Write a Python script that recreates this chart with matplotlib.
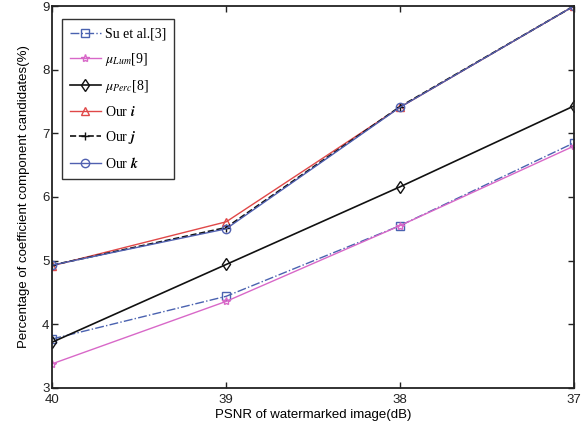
import matplotlib
matplotlib.use("Agg")
import matplotlib.pyplot as plt

psnr = [40, 39, 38, 37]
su = [3.77, 4.44, 5.55, 6.85]
mu_lum = [3.38, 4.36, 5.55, 6.80]
mu_perc = [3.72, 4.94, 6.16, 7.43]
our_i = [4.92, 5.61, 7.41, 9.0]
our_j = [4.93, 5.52, 7.42, 9.0]
our_k = [4.93, 5.50, 7.41, 9.0]
yticks = [3, 4, 5, 6, 7, 8, 9]

plt.rcParams['font.family'] = ['Liberation Sans', 'DejaVu Sans']
plt.rcParams['mathtext.fontset'] = 'stix'

fig = plt.figure(figsize=(5.88, 4.32), dpi=100)
ax = fig.add_axes([0.089, 0.102, 0.887, 0.884])

ax.plot(psnr, su, color='#4a62b0', linestyle='-.', linewidth=1.0, marker='s',
        markersize=6, markerfacecolor='none', markeredgecolor='#4a62b0', label='Su et al.[3]')
ax.plot(psnr, mu_lum, color='#d868c8', linestyle='-', linewidth=1.0, marker='*',
        markersize=6, markerfacecolor='none', markeredgecolor='#d868c8', label=r'$\mu_{Lum}$[9]')
ax.plot(psnr, mu_perc, color='#111111', linestyle='-', linewidth=1.2, marker='d',
        markersize=6, markerfacecolor='none', markeredgecolor='#111111', label=r'$\mu_{Perc}$[8]')
ax.plot(psnr, our_i, color='#e04848', linestyle='-', linewidth=1.0, marker='^',
        markersize=6, markerfacecolor='none', markeredgecolor='#e04848', label=r'Our $\boldsymbol{i}$')
ax.plot(psnr, our_j, color='#111111', linestyle='--', linewidth=1.2, marker='+',
        markersize=6, markeredgecolor='#111111', label=r'Our $\boldsymbol{j}$')
ax.plot(psnr, our_k, color='#5060b0', linestyle='-', linewidth=1.0, marker='o',
        markersize=6, markerfacecolor='none', markeredgecolor='#5060b0', label=r'Our $\boldsymbol{k}$')

ax.set_xlim(40, 37)
ax.set_ylim(3, 9)
ax.set_xticks(psnr)
ax.set_yticks(yticks)
ax.tick_params(direction='in', length=4, width=1, labelsize=9.5,
               top=True, right=True, colors='#222222')
ax.tick_params(axis='x', pad=4.5)
ax.tick_params(axis='y', pad=2)
for s in ax.spines.values():
    s.set_linewidth(1.3)
    s.set_color('#222222')

ax.set_xlabel('PSNR of watermarked image(dB)', fontsize=9.5, labelpad=2)
ax.set_ylabel('Percentage of coefficient component candidates(%)', fontsize=9.5, labelpad=9)

leg = ax.legend(loc='upper left', bbox_to_anchor=(0.018, 0.965), fancybox=False,
                edgecolor='#333333', framealpha=1, handlelength=2.2, labelspacing=0.72,
                borderpad=0.6, handletextpad=0.3, borderaxespad=0,
                prop={'family': ['Liberation Serif', 'DejaVu Serif'], 'size': 10})
leg.get_frame().set_linewidth(1.0)

fig.savefig('out.png', dpi=100)
